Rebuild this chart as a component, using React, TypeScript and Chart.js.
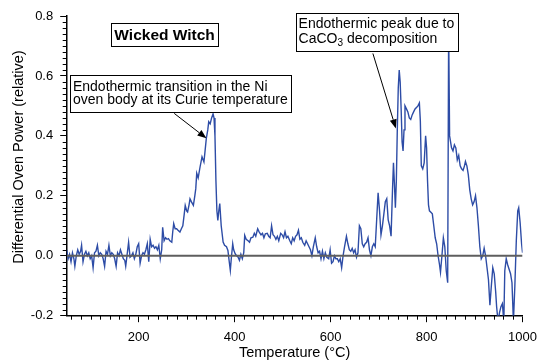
import React, { useEffect, useRef } from "react";
import { Chart, registerables } from "chart.js";

Chart.register(...registerables);

// ---- data ----
const temperature = [
  50, 53, 56, 59, 62, 65, 67, 70, 73, 76, 79, 81, 84, 87, 90, 93, 96, 99, 102, 105,
  108, 111, 114, 117, 120, 123, 126, 129, 132, 135, 138, 141, 144, 147, 150, 153, 156, 159, 162, 165,
  168, 171, 173, 176, 179, 182, 185, 188, 191, 194, 197, 200, 203, 206, 209, 212, 215, 218, 221, 224,
  227, 230, 233, 236, 239, 242, 245, 248, 250, 253, 256, 259, 262, 265, 269, 271, 273, 276, 279, 282,
  286, 289, 292, 295, 297, 300, 302, 305, 307, 310, 314, 317, 319, 321, 324, 328, 332, 336, 339, 341,
  344, 346, 349, 352, 355, 357, 359, 361, 363, 365, 367, 369, 372, 376, 379, 383, 386, 388, 391, 393,
  396, 398, 401, 404, 407, 410, 413, 416, 419, 421, 424, 428, 431, 434, 438, 441, 444, 448, 451, 455,
  458, 461, 464, 468, 471, 474, 477, 480, 483, 486, 489, 492, 496, 499, 502, 505, 508, 511, 515, 518,
  521, 524, 527, 530, 533, 536, 539, 542, 546, 549, 552, 555, 558, 561, 564, 568, 571, 574, 577, 580,
  583, 586, 589, 592, 596, 599, 602, 605, 608, 611, 614, 617, 620, 623, 626, 629, 633, 636, 639, 642,
  645, 648, 651, 654, 657, 660, 663, 666, 669, 672, 675, 678, 681, 684, 687, 690, 693, 696, 699, 702,
  705, 708, 711, 714, 717, 720, 723, 726, 729, 731, 733, 735, 737, 739, 741, 743, 745, 747, 749, 751,
  753, 755, 758, 761, 764, 767, 770, 773, 776, 779, 782, 785, 787, 789, 792, 795, 798, 800, 802, 804,
  806, 809, 812, 815, 818, 821, 824, 827, 829, 832, 835, 838, 841, 844, 846, 848, 852, 855, 858, 861,
  864, 867, 870, 873, 876, 879, 881, 884, 887, 890, 893, 896, 899, 902, 905, 908, 911, 914, 917, 920,
  923, 926, 929, 932, 935, 938, 941, 944, 946, 949, 952, 955, 958, 961, 963, 966, 969, 972, 975, 978,
  981, 984, 987, 990, 992, 995, 998, 1000,
];

const power = [
  0.02, -0.01, 0.005, -0.02, 0.01, -0.01, -0.035, 0.0, 0.02, 0.005, 0.015, 0.035, -0.02, 0.005, 0.015, 0.0, 0.01, -0.01, 0.0, -0.04,
  0.01, 0.015, 0.035, 0.0, 0.01, 0.005, -0.01, -0.035, 0.015, 0.005, 0.035, 0.0, 0.01, 0.005, -0.01, -0.035, 0.01, 0.0, 0.02, 0.005,
  -0.01, -0.015, -0.035, 0.005, 0.045, -0.005, 0.0, 0.01, -0.01, 0.005, 0.03, 0.04, -0.025, 0.0, 0.01, 0.005, 0.02, 0.04, -0.02, 0.055,
  0.03, 0.035, 0.025, 0.03, 0.02, 0.035, -0.01, 0.02, 0.095, 0.05, 0.06, 0.055, 0.057, 0.05, 0.045, 0.08, 0.107, 0.09, 0.09, 0.085,
  0.079, 0.09, 0.1, 0.14, 0.168, 0.15, 0.146, 0.17, 0.19, 0.18, 0.168, 0.2, 0.224, 0.275, 0.26, 0.297, 0.33, 0.313, 0.36, 0.392,
  0.42, 0.447, 0.44, 0.46, 0.473, 0.46, 0.4, 0.25, 0.15, 0.118, 0.15, 0.174, 0.1, 0.046, 0.035, 0.03, 0.018, -0.01, -0.049, -0.01,
  0.04, 0.02, 0.007, 0.0, -0.004, -0.015, 0.005, -0.01, 0.01, 0.068, 0.055, 0.05, 0.045, 0.06, 0.062, 0.075, 0.065, 0.09, 0.08, 0.07,
  0.075, 0.06, 0.073, 0.075, 0.065, 0.06, 0.1, 0.07, 0.065, 0.055, 0.065, 0.05, 0.075, 0.07, 0.06, 0.08, 0.06, 0.065, 0.05, 0.04,
  0.06, 0.05, 0.065, 0.07, 0.085, 0.055, 0.06, 0.045, 0.035, 0.05, 0.04, 0.03, 0.02, 0.0, 0.03, 0.06, 0.03, 0.01, 0.015, -0.01,
  0.015, -0.01, 0.01, -0.005, -0.01, 0.02, -0.025, -0.02, 0.0, -0.01, -0.01, -0.02, -0.01, -0.04, 0.0, 0.03, 0.065, 0.04, 0.02, 0.015,
  0.025, 0.01, 0.02, -0.005, 0.01, 0.1, 0.09, 0.04, 0.03, 0.04, 0.045, 0.06, 0.02, 0.0, 0.03, 0.04, 0.03, 0.12, 0.21, 0.15,
  0.07, 0.1, 0.14, 0.18, 0.19, 0.12, 0.1, 0.065, 0.22, 0.31, 0.24, 0.16, 0.25, 0.42, 0.56, 0.62, 0.58, 0.49, 0.38, 0.35,
  0.42, 0.5, 0.49, 0.48, 0.46, 0.455, 0.47, 0.48, 0.49, 0.495, 0.5, 0.51, 0.45, 0.3, 0.29, 0.31, 0.4, 0.36, 0.25, 0.17,
  0.15, 0.145, 0.14, 0.1, 0.06, 0.04, 0.0, -0.03, -0.055, 0.0, 0.06, 0.03, -0.05, -0.09, 0.76, 0.4, 0.36, 0.35, 0.37, 0.36,
  0.32, 0.335, 0.3, 0.29, 0.285, 0.3, 0.315, 0.3, 0.27, 0.22, 0.19, 0.17, 0.18, 0.2, 0.16, 0.1, 0.03, -0.01, 0.0, 0.025,
  0.0, -0.04, -0.08, -0.165, -0.1, -0.04, -0.06, -0.12, -0.17, -0.22, -0.19, -0.17, -0.16, -0.22, -0.05, -0.01, -0.03, -0.045, -0.06, -0.09,
  -0.22, -0.1, 0.05, 0.15, 0.16, 0.11, 0.04, 0.01,
];

const xMajorTicks = [200, 400, 600, 800, 1000];
const yMajorTicks = [-0.2, 0, 0.2, 0.4, 0.6, 0.8];
const xMinorStep = 20;
const yMinorStep = 0.02;

const xTitle = "Temperature (°C)";
const yTitle = "Differential Oven Power (relative)";
const chartLabel = "Wicked Witch";
const curieNote = ["Endothermic transition in the Ni", "oven body at its Curie temperature"];
const caco3NoteLine1 = "Endothermic peak due to";
const caco3NoteLine2 = ["CaCO", "3", " decomposition"];

// annotation anchors in data units
const labelCenter = { x: 254, y: 0.737 };
const curieBox = { x: 56.8, y: 0.603 };
const curieArrow = { from: { x: 274.1, y: 0.475 }, to: { x: 341.2, y: 0.392 } };
const caco3Box = { x: 527, y: 0.809 };
const caco3Arrow = { from: { x: 688.1, y: 0.675 }, to: { x: 736, y: 0.425 } };

const FONT = '"Liberation Sans", Arial, Helvetica, sans-serif';
const LINE_COLOR = "#2d4ca6";

function drawArrow(ctx: CanvasRenderingContext2D, x1: number, y1: number, x2: number, y2: number) {
  const ang = Math.atan2(y2 - y1, x2 - x1);
  const len = 9;
  const half = 3.5;
  const bx = x2 - len * Math.cos(ang);
  const by = y2 - len * Math.sin(ang);
  ctx.strokeStyle = "#000";
  ctx.lineWidth = 1;
  ctx.beginPath();
  ctx.moveTo(x1, y1);
  ctx.lineTo(bx, by);
  ctx.stroke();
  ctx.fillStyle = "#000";
  ctx.beginPath();
  ctx.moveTo(x2, y2);
  ctx.lineTo(bx + half * Math.sin(ang), by - half * Math.cos(ang));
  ctx.lineTo(bx - half * Math.sin(ang), by + half * Math.cos(ang));
  ctx.closePath();
  ctx.fill();
}

function drawBox(ctx: CanvasRenderingContext2D, left: number, top: number, w: number, h: number) {
  const l = Math.round(left) + 0.5;
  const t = Math.round(top) + 0.5;
  ctx.fillStyle = "#fff";
  ctx.fillRect(l, t, Math.round(w), Math.round(h));
  ctx.strokeStyle = "#000";
  ctx.lineWidth = 1;
  ctx.strokeRect(l, t, Math.round(w), Math.round(h));
}

const decor = {
  id: "decor",
  afterDraw(chart: any) {
    const { ctx, chartArea } = chart;
    const xs = chart.scales.x;
    const ys = chart.scales.y;
    ctx.save();
    // minor ticks
    ctx.strokeStyle = "#000";
    ctx.lineWidth = 1;
    ctx.beginPath();
    for (let t = 60; t <= 1000; t += xMinorStep) {
      if (xMajorTicks.includes(t)) continue;
      const px = Math.round(xs.getPixelForValue(t)) + 0.5;
      ctx.moveTo(px, chartArea.bottom);
      ctx.lineTo(px, chartArea.bottom + 4);
    }
    for (let i = -10; i <= 40; i++) {
      if (i % 10 === 0) continue;
      const py = Math.round(ys.getPixelForValue(i * yMinorStep)) + 0.5;
      ctx.moveTo(chartArea.left - 4, py);
      ctx.lineTo(chartArea.left, py);
    }
    ctx.stroke();

    // axis titles
    ctx.fillStyle = "#000";
    ctx.font = `14.5px ${FONT}`;
    ctx.textAlign = "center";
    ctx.textBaseline = "alphabetic";
    ctx.fillText(xTitle, (chartArea.left + chartArea.right) / 2, chartArea.bottom + 41.6);
    ctx.save();
    ctx.translate(23.3, 157);
    ctx.rotate(-Math.PI / 2);
    ctx.fillText(yTitle, 0, 0);
    ctx.restore();

    // Wicked Witch label
    ctx.font = `bold 15.5px ${FONT}`;
    const lw = ctx.measureText(chartLabel).width;
    const lcx = xs.getPixelForValue(labelCenter.x);
    const lcy = ys.getPixelForValue(labelCenter.y);
    drawBox(ctx, lcx - lw / 2 - 3.5, lcy - 11.7, lw + 7, 23.4);
    ctx.fillStyle = "#000";
    ctx.textAlign = "center";
    ctx.fillText(chartLabel, lcx, lcy + 5.6);

    // Curie note
    ctx.font = `14px ${FONT}`;
    ctx.textAlign = "left";
    const cw = Math.max(...curieNote.map((s) => ctx.measureText(s).width));
    const cl = xs.getPixelForValue(curieBox.x);
    const ct = ys.getPixelForValue(curieBox.y);
    drawBox(ctx, cl, ct, cw + 6, 36.7);
    ctx.fillStyle = "#000";
    ctx.fillText(curieNote[0], cl + 3, ct + 16);
    ctx.fillText(curieNote[1], cl + 3, ct + 29.3);
    drawArrow(
      ctx,
      xs.getPixelForValue(curieArrow.from.x), ys.getPixelForValue(curieArrow.from.y),
      xs.getPixelForValue(curieArrow.to.x), ys.getPixelForValue(curieArrow.to.y)
    );

    // CaCO3 note
    ctx.font = `14px ${FONT}`;
    const w1 = ctx.measureText(caco3NoteLine1).width;
    const wa = ctx.measureText(caco3NoteLine2[0]).width;
    const wc = ctx.measureText(caco3NoteLine2[2]).width;
    ctx.font = `10px ${FONT}`;
    const wb = ctx.measureText(caco3NoteLine2[1]).width;
    const bw = Math.max(w1, wa + wb + wc);
    const bl = xs.getPixelForValue(caco3Box.x);
    const bt = ys.getPixelForValue(caco3Box.y);
    drawBox(ctx, bl, bt, bw + 6, 38.4);
    ctx.fillStyle = "#000";
    ctx.font = `14px ${FONT}`;
    ctx.fillText(caco3NoteLine1, bl + 3, bt + 14.2);
    ctx.fillText(caco3NoteLine2[0], bl + 3, bt + 29.4);
    ctx.font = `10px ${FONT}`;
    ctx.fillText(caco3NoteLine2[1], bl + 3 + wa, bt + 32.4);
    ctx.font = `14px ${FONT}`;
    ctx.fillText(caco3NoteLine2[2], bl + 3 + wa + wb, bt + 29.4);
    drawArrow(
      ctx,
      xs.getPixelForValue(caco3Arrow.from.x), ys.getPixelForValue(caco3Arrow.from.y),
      xs.getPixelForValue(caco3Arrow.to.x), ys.getPixelForValue(caco3Arrow.to.y)
    );
    ctx.restore();
  },
};

export default function App() {
  const ref = useRef<HTMLCanvasElement>(null);
  useEffect(() => {
    const canvas = ref.current;
    if (!canvas) return;
    const points = temperature.map((t, i) => ({ x: t, y: power[i] }));
    const chart = new Chart(canvas, {
      type: "line",
      data: {
        datasets: [
          {
            data: [{ x: 50, y: 0 }, { x: 1000, y: 0 }],
            borderColor: "#5e5e5e",
            borderWidth: 2,
            pointRadius: 0,
          },
          {
            data: points,
            borderColor: LINE_COLOR,
            borderWidth: 1.4,
            pointRadius: 0,
            tension: 0,
          },
        ],
      },
      options: {
        animation: false,
        responsive: false,
        maintainAspectRatio: false,
        events: [],
        layout: { padding: { top: 16, right: 15.3, left: 0, bottom: 0 } },
        plugins: {
          legend: { display: false },
          tooltip: { enabled: false },
          title: { display: false },
        },
        scales: {
          x: {
            type: "linear",
            min: 50,
            max: 1000,
            afterBuildTicks: (s: any) => {
              s.ticks = xMajorTicks.map((v) => ({ value: v }));
            },
            afterFit: (s: any) => {
              s.height = 47.3;
            },
            grid: { drawOnChartArea: false, drawTicks: true, tickLength: 6.5, color: "#000", lineWidth: 1 },
            border: { display: true, color: "#000", width: 1.5 },
            ticks: {
              font: { family: FONT, size: 13 },
              color: "#000",
              padding: 7,
              maxRotation: 0,
              autoSkip: false,
              callback: (v: any) => String(v),
            },
          },
          y: {
            type: "linear",
            min: -0.2,
            max: 0.8,
            afterBuildTicks: (s: any) => {
              s.ticks = yMajorTicks.map((v) => ({ value: v }));
            },
            afterFit: (s: any) => {
              s.width = 66.7;
            },
            grid: { drawOnChartArea: false, drawTicks: true, tickLength: 6.5, color: "#000", lineWidth: 1 },
            border: { display: true, color: "#000", width: 1.5 },
            ticks: {
              font: { family: FONT, size: 13 },
              color: "#000",
              padding: 7,
              autoSkip: false,
              callback: (v: any) => (Math.abs(v) < 1e-9 ? "0.0" : Number(v).toFixed(1)),
            },
          },
        },
      },
      plugins: [decor],
    } as any);
    return () => chart.destroy();
  }, []);
  return (
    <div style={{ position: "fixed", left: 0, top: 0, width: 544, height: 363, background: "#fff" }}>
      <canvas ref={ref} width={544} height={363} style={{ display: "block", width: 544, height: 363 }} />
    </div>
  );
}
